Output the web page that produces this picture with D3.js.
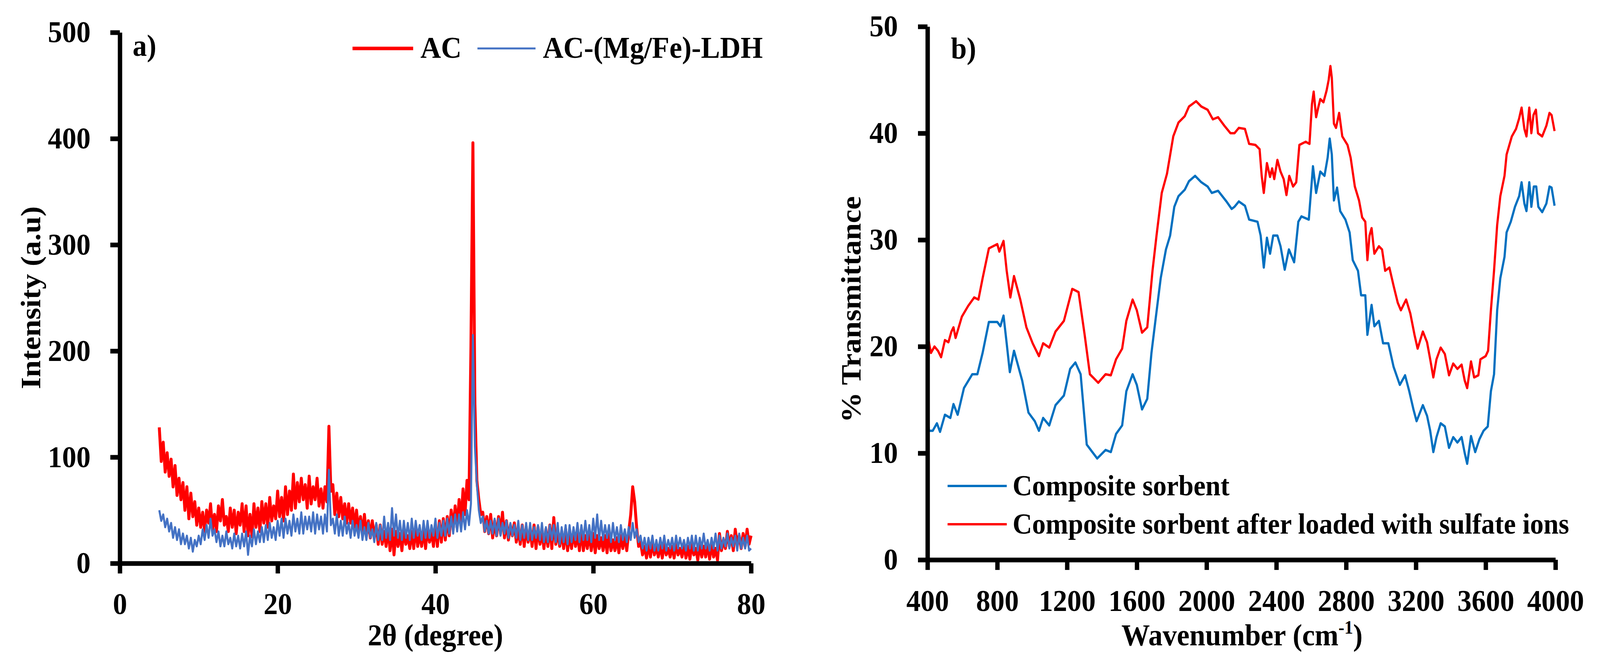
<!DOCTYPE html>
<html>
<head>
<meta charset="utf-8">
<script src="https://cdn.jsdelivr.net/npm/d3@7"></script>
<style>
  html, body { margin: 0; padding: 0; width: 100%; height: 100%; overflow: hidden; background: #fff; }
  svg { display: block; width: 100vw; height: 100vh; }
</style>
</head>
<body>
<script>
// size of the whole figure (viewBox units)
var width = 4380;
var height = 1710;

// ---- panel a) XRD, sampled every 0.25 degree from 5 to 80 ----
var twoThetaStart = 5;
var twoThetaStep = 0.25;

var acIntensity = [
  128, 96, 114, 86,  104, 82, 98, 72,  92, 64, 80, 60,  76, 50, 72, 42,   // 5-8
  66, 44, 58, 36,  52, 34, 48, 30,  50, 38, 56, 32,  46, 30, 54, 40,       // 9-12
  60, 36, 44, 30,  52, 34, 50, 28,  48, 36, 56, 30,  54, 26, 46, 25,       // 13-16
  56, 34, 52, 30,  58, 38, 56, 34,  62, 40, 54, 42,  68, 44, 62, 40,       // 17-20
  72, 46, 68, 50,  84, 52, 76, 58,  80, 60, 74, 52,  82, 56, 72, 60,       // 21-24
  80, 54, 70, 52,  72, 58, 129, 68,  74, 46, 66, 44,  62, 42, 56, 38,      // 25-28
  56, 38, 52, 34,  50, 30, 44, 28,  46, 26, 40, 24,  40, 24, 36, 18,       // 29-32
  36, 18, 30, 16,  34, 12, 32, 8,  30, 16, 28, 12,  32, 18, 26, 14,        // 33-36
  30, 14, 34, 16,  28, 16, 32, 14,  34, 20, 30, 16,  36, 16, 40, 20,       // 37-40
  42, 22, 44, 26,  50, 32, 54, 34,  60, 40, 70, 46,  78, 60, 205, 396,     // 41-44
  150, 78, 60, 46,  48, 30, 44, 28,  46, 24, 40, 26,  44, 28, 48, 24,      // 45-48
  40, 22, 36, 26,  38, 20, 32, 18,  36, 16, 34, 20,  32, 16, 36, 14,       // 49-52
  34, 18, 30, 14,  32, 16, 36, 14,  43, 18, 30, 16,  30, 14, 32, 12,       // 53-56
  28, 14, 30, 16,  28, 12, 32, 12,  26, 14, 28, 12,  28, 10, 26, 14,       // 57-60
  24, 12, 26, 10,  28, 12, 22, 12,  24, 10, 26, 14,  26, 12, 30, 46,       // 61-64
  72, 58, 34, 16,  20, 8, 16, 5,  18, 6, 20, 8,  16, 6, 18, 5,             // 65-68
  18, 8, 14, 6,  16, 5, 18, 8,  14, 6, 18, 5,  16, 4, 18, 8,               // 69-72
  14, 3, 18, 6,  16, 6, 18, 4,  18, 6, 14, 3,  28, 12, 22, 14,             // 73-76
  30, 16, 26, 12,  32, 18, 26, 14,  28, 16, 32, 18,  26                    // 77-80
];

var ldhIntensity = [
  50, 40, 46, 34,  42, 30, 38, 24,  34, 22, 32, 18,  28, 18, 26, 14,       // 5-8
  24, 11, 22, 16,  26, 18, 32, 22,  36, 24, 42, 26,  32, 20, 30, 16,       // 9-12
  26, 16, 30, 18,  24, 14, 28, 16,  26, 14, 28, 16,  30, 8, 26, 16,        // 13-16
  32, 18, 30, 20,  34, 20, 36, 22,  38, 24, 34, 22,  40, 26, 42, 24,       // 17-20
  42, 28, 40, 26,  46, 30, 42, 28,  48, 28, 44, 32,  44, 30, 48, 28,       // 21-24
  46, 32, 44, 28,  46, 30, 88, 36,  42, 28, 46, 26,  40, 26, 44, 28,       // 25-28
  38, 24, 40, 26,  36, 24, 40, 22,  34, 22, 38, 24,  32, 20, 38, 22,       // 29-32
  36, 22, 44, 24,  38, 22, 52, 26,  46, 24, 40, 22,  40, 24, 38, 22,       // 33-36
  42, 24, 40, 26,  36, 22, 40, 24,  40, 24, 36, 26,  42, 24, 38, 26,       // 37-40
  40, 26, 42, 28,  44, 28, 46, 30,  46, 30, 48, 32,  50, 36, 56, 215,      // 41-44
  110, 75, 50, 38,  44, 30, 40, 28,  40, 28, 42, 26,  42, 26, 38, 28,      // 45-48
  40, 24, 38, 26,  36, 24, 40, 22,  36, 24, 38, 22,  38, 22, 34, 24,       // 49-52
  36, 22, 38, 20,  34, 20, 36, 22,  36, 20, 38, 18,  34, 20, 36, 18,       // 53-56
  36, 20, 34, 22,  38, 20, 36, 22,  40, 22, 36, 20,  42, 24, 46, 22,       // 57-60
  40, 22, 36, 24,  36, 20, 38, 22,  34, 20, 36, 22,  32, 20, 34, 22,       // 61-64
  38, 24, 32, 20,  26, 14, 24, 12,  24, 14, 26, 12,  22, 12, 24, 14,       // 65-68
  26, 12, 22, 14,  24, 12, 26, 14,  24, 14, 22, 12,  24, 14, 26, 12,       // 69-72
  26, 12, 24, 14,  28, 14, 22, 12,  24, 14, 28, 12,  26, 14, 24, 16,       // 73-76
  28, 14, 24, 16,  26, 12, 28, 14,  24, 14, 26, 12,  14                    // 77-80
];

var xrdXTicks = [0, 20, 40, 60, 80];
var xrdYTicks = [0, 100, 200, 300, 400, 500];

// ---- panel b) FTIR ----
var sorbentWavenumber = [
  400, 408, 430, 454, 472, 500, 531, 549, 573, 609, 657, 686, 716, 752, 800, 818, 836, 854, 872, 896,
  943, 979, 1015, 1039, 1063, 1098, 1134, 1182, 1218, 1248, 1278, 1313, 1373, 1421, 1451, 1481, 1516, 1540, 1576, 1600,
  1630, 1660, 1684, 1708, 1737, 1767, 1791, 1815, 1839, 1875, 1899, 1934, 1970, 2006, 2030, 2066, 2114, 2144, 2160, 2185,
  2220, 2244, 2292, 2310, 2328, 2346, 2364, 2382, 2406, 2424, 2448, 2472, 2502, 2526, 2544, 2586, 2610, 2628, 2652, 2676,
  2694, 2706, 2718, 2730, 2748, 2766, 2796, 2820, 2838, 2868, 2886, 2910, 2922, 2946, 2962, 2988, 3012, 3042, 3072, 3108,
  3138, 3162, 3186, 3204, 3240, 3264, 3282, 3300, 3318, 3342, 3366, 3390, 3414, 3438, 3462, 3480, 3494, 3516, 3540, 3564,
  3588, 3612, 3630, 3648, 3666, 3684, 3708, 3720, 3744, 3768, 3792, 3806, 3822, 3834, 3850, 3862, 3876, 3890, 3902, 3924,
  3948, 3966, 3978, 3995
];
var sorbentTransmittance = [
  14.3, 12.1, 12.1, 12.8, 12.0, 13.6, 13.3, 14.6, 13.6, 16.1, 17.4, 17.4, 19.4, 22.3, 22.3, 21.9, 22.9, 20.3, 17.6, 19.6,
  16.8, 13.8, 13.0, 12.1, 13.3, 12.6, 14.5, 15.4, 17.9, 18.5, 17.4, 10.8, 9.5, 10.3, 10.1, 11.8, 12.6, 15.8, 17.4, 16.4,
  14.1, 15.1, 19.4, 22.6, 26.4, 29.1, 30.4, 33.1, 34.1, 34.7, 35.5, 36.0, 35.4, 35.0, 34.4, 34.6, 33.6, 32.9, 33.1, 33.6,
  33.2, 31.9, 31.7, 30.4, 27.4, 30.2, 28.7, 30.4, 30.4, 29.4, 27.2, 29.1, 27.9, 31.7, 32.2, 31.9, 36.9, 34.4, 36.4, 36.0,
  37.7, 39.5, 38.0, 33.7, 34.9, 32.7, 31.9, 30.7, 28.1, 27.1, 24.8, 24.8, 21.1, 23.9, 21.9, 22.4, 20.3, 20.3, 18.1, 16.4,
  17.3, 15.8, 14.1, 13.0, 14.5, 13.5, 12.1, 10.1, 11.5, 12.8, 12.5, 10.5, 11.5, 11.0, 11.5, 10.0, 9.0, 11.6, 10.1, 11.3,
  12.1, 12.5, 15.8, 17.4, 23.4, 26.4, 28.4, 30.7, 31.7, 33.1, 34.1, 35.4, 33.4, 32.7, 35.4, 33.1, 35.0, 35.0, 33.1, 32.6,
  33.4, 35.0, 34.9, 33.2
];

var loadedWavenumber = [
  400, 420, 440, 460, 478, 500, 520, 537, 549, 561, 597, 633, 668, 692, 716, 752, 800, 812, 836, 854,
  875, 896, 932, 967, 1003, 1039, 1063, 1098, 1134, 1182, 1230, 1266, 1301, 1331, 1379, 1421, 1451, 1481, 1516, 1540,
  1576, 1600, 1630, 1660, 1690, 1713, 1743, 1773, 1809, 1839, 1875, 1899, 1940, 1970, 2006, 2036, 2066, 2102, 2137, 2160,
  2185, 2220, 2244, 2280, 2304, 2316, 2328, 2346, 2364, 2376, 2388, 2406, 2424, 2442, 2458, 2474, 2496, 2514, 2532, 2568,
  2590, 2604, 2614, 2628, 2640, 2652, 2670, 2688, 2700, 2710, 2718, 2730, 2742, 2760, 2778, 2808, 2826, 2850, 2874, 2892,
  2910, 2922, 2934, 2946, 2962, 2988, 3006, 3024, 3048, 3072, 3096, 3114, 3144, 3168, 3192, 3210, 3240, 3264, 3282, 3300,
  3318, 3342, 3366, 3390, 3414, 3438, 3462, 3480, 3494, 3516, 3534, 3558, 3570, 3600, 3614, 3630, 3648, 3666, 3684, 3708,
  3720, 3750, 3774, 3792, 3806, 3822, 3834, 3850, 3862, 3874, 3888, 3900, 3924, 3948, 3966, 3978, 3995
];
var loadedTransmittance = [
  21.1, 19.4, 20.0, 19.6, 19.0, 20.6, 20.4, 21.4, 21.8, 20.8, 22.8, 23.8, 24.6, 24.4, 26.4, 29.2, 29.6, 28.9, 29.9, 27.1,
  24.6, 26.6, 24.4, 21.8, 20.3, 19.1, 20.3, 19.9, 21.4, 22.4, 25.4, 25.1, 21.1, 17.4, 16.6, 17.4, 17.3, 18.8, 19.8, 22.4,
  24.4, 23.4, 21.3, 21.8, 27.1, 30.4, 34.4, 36.2, 39.7, 41.0, 41.6, 42.5, 43.0, 42.5, 42.2, 41.3, 41.5, 40.7, 40.0, 40.0,
  40.5, 40.4, 39.0, 38.9, 38.5, 36.0, 34.4, 37.2, 35.9, 36.7, 35.7, 37.5, 36.4, 35.7, 34.2, 36.0, 35.0, 35.4, 38.9, 39.2,
  39.0, 42.7, 43.9, 41.5, 42.4, 43.2, 42.9, 44.0, 45.0, 46.3, 45.2, 40.9, 40.5, 41.9, 39.7, 38.9, 37.7, 35.0, 33.7, 32.1,
  31.7, 28.1, 30.4, 31.1, 28.7, 29.4, 29.1, 27.1, 27.4, 25.7, 24.1, 23.4, 24.4, 23.1, 21.1, 19.8, 21.4, 20.4, 18.8, 17.1,
  18.8, 19.9, 19.3, 17.3, 18.4, 17.9, 18.3, 16.8, 16.1, 18.6, 17.1, 17.3, 18.8, 19.1, 19.6, 23.4, 27.1, 31.4, 34.1, 36.0,
  38.0, 39.7, 40.4, 41.4, 42.4, 40.4, 39.7, 42.4, 40.0, 41.7, 42.2, 40.0, 39.7, 40.7, 41.9, 41.7, 40.2
];

var irXTicks = [400, 800, 1200, 1600, 2000, 2400, 2800, 3200, 3600, 4000];
var irYTicks = [0, 10, 20, 30, 40, 50];

var font = "'Liberation Serif', 'Times New Roman', serif";
var fontSize = 78;

// the drawing is laid out in 4380x1710 units and stretched to the window
var svg = d3.select('body')
            .append('svg')
            .attr('viewBox', '0 0 ' + width + ' ' + height)
            .attr('preserveAspectRatio', 'none');

svg.append('rect').attr('width', width).attr('height', height).attr('fill', '#fff');

// scales
var xA = d3.scaleLinear().domain([0, 80]).range([328, 2056]);
var yA = d3.scaleLinear().domain([0, 500]).range([1442, 83]);
var xB = d3.scaleLinear().domain([400, 4000]).range([2539, 4258]);
var yB = d3.scaleLinear().domain([0, 50]).range([1433, 68]);

// ---- curves ----
var xrdLine = d3.line()
                .x(function(d, i){ return xA(twoThetaStart + i * twoThetaStep); })
                .y(function(d){ return yA(d); });

svg.append('path')
   .attr('d', xrdLine(acIntensity))
   .attr('fill', 'none')
   .attr('stroke', '#ff0000')
   .attr('stroke-width', 8)
   .attr('stroke-linejoin', 'round');

svg.append('path')
   .attr('d', xrdLine(ldhIntensity))
   .attr('fill', 'none')
   .attr('stroke', '#4472c4')
   .attr('stroke-width', 5.5)
   .attr('stroke-linejoin', 'round');

function irLine(wn, vals){
  return d3.line()
           .x(function(d, i){ return xB(wn[i]); })
           .y(function(d){ return yB(d); })(vals);
}

svg.append('path')
   .attr('d', irLine(loadedWavenumber, loadedTransmittance))
   .attr('fill', 'none')
   .attr('stroke', '#ff0000')
   .attr('stroke-width', 6)
   .attr('stroke-linejoin', 'round');

svg.append('path')
   .attr('d', irLine(sorbentWavenumber, sorbentTransmittance))
   .attr('fill', 'none')
   .attr('stroke', '#0070c0')
   .attr('stroke-width', 6)
   .attr('stroke-linejoin', 'round');

// ---- axes ----
var fmt = d3.format('d');

function styleAxis(g){
  g.attr('font-family', font)
   .attr('font-size', fontSize)
   .attr('font-weight', 'bold');
  g.select('.domain').attr('stroke', '#000').attr('stroke-width', 12);
  g.selectAll('.tick line').attr('stroke', '#000').attr('stroke-width', 12);
  g.selectAll('.tick text').attr('fill', '#000');
}

var axA_y = svg.append('g')
               .attr('transform', 'translate(' + xA(0) + ',0)')
               .call(d3.axisLeft(yA).tickValues(xrdYTicks).tickFormat(fmt).tickSize(26).tickSizeOuter(0).tickPadding(54));
styleAxis(axA_y);

var axA_x = svg.append('g')
               .attr('transform', 'translate(0,' + yA(0) + ')')
               .call(d3.axisBottom(xA).tickValues(xrdXTicks).tickFormat(fmt).tickSize(26).tickSizeOuter(0));
styleAxis(axA_x);
axA_x.selectAll('.tick text').attr('y', 130).attr('dy', 0);

var axB_y = svg.append('g')
               .attr('transform', 'translate(' + xB(400) + ',0)')
               .call(d3.axisLeft(yB).tickValues(irYTicks).tickFormat(fmt).tickSize(26).tickSizeOuter(0).tickPadding(55));
styleAxis(axB_y);

var axB_x = svg.append('g')
               .attr('transform', 'translate(0,' + yB(0) + ')')
               .call(d3.axisBottom(xB).tickValues(irXTicks).tickFormat(fmt).tickSize(26).tickSizeOuter(0));
styleAxis(axB_x);
axB_x.selectAll('.tick text').attr('y', 131).attr('dy', 0);

// ---- titles ----
function label(x, y, txt, opts){
  opts = opts || {};
  var t = svg.append('text')
             .attr('x', x)
             .attr('y', y)
             .attr('font-family', font)
             .attr('font-size', opts.size || fontSize)
             .attr('font-weight', 'bold')
             .attr('text-anchor', opts.anchor || 'start')
             .attr('fill', '#000')
             .text(txt);
  if(opts.rotate){
    t.attr('x', 0).attr('y', 0)
     .attr('transform', 'translate(' + x + ',' + y + ') rotate(-90)');
  }
  return t;
}

label(1192, 1652, '2θ (degree)', {anchor: 'middle'});
label(110, 762, 'Intensity (a.u)', {anchor: 'middle', rotate: true});
label(2356, 792, '% Transmittance', {anchor: 'middle', rotate: true});

var wn = label(3400, 1652, 'Wavenumber (cm', {anchor: 'middle'});
wn.append('tspan').attr('font-size', 48).attr('dy', -30).text('-1');
wn.append('tspan').attr('dy', 30).text(')');

label(363, 143, 'a)');
label(2603, 150, 'b)');

// ---- legends ----
var legendA = [
  {name: 'AC', color: '#ff0000', w: 9, x1: 965, x2: 1131},
  {name: 'AC-(Mg/Fe)-LDH', color: '#4472c4', w: 5, x1: 1307, x2: 1466}
];
legendA.forEach(function(d){
  svg.append('line')
     .attr('x1', d.x1).attr('x2', d.x2)
     .attr('y1', 124).attr('y2', 124)
     .attr('stroke', d.color)
     .attr('stroke-width', d.w);
  label(d.x2 + 20, 148, d.name);
});

var legendB = [
  {name: 'Composite sorbent', color: '#0070c0', y: 1244},
  {name: 'Composite sorbent after loaded with sulfate ions', color: '#ff0000', y: 1342}
];
legendB.forEach(function(d){
  svg.append('line')
     .attr('x1', 2594).attr('x2', 2756)
     .attr('y1', d.y).attr('y2', d.y)
     .attr('stroke', d.color)
     .attr('stroke-width', 6);
  label(2772, d.y + 24, d.name, {size: 74});
});
</script>
</body>
</html>
